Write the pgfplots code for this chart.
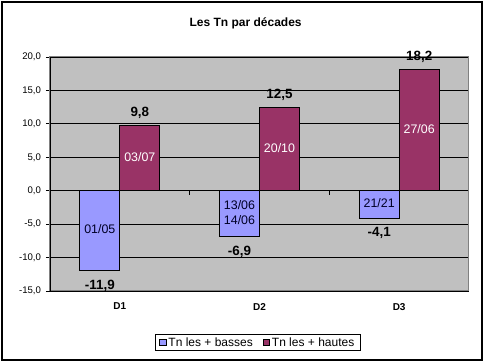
\documentclass[border=0pt]{standalone}
\usepackage{pgfplots}
\pgfplotsset{compat=1.18}
\usepackage{fontspec}
\setmainfont{Liberation Sans}
\definecolor{bluebar}{HTML}{9999FF}
\definecolor{redbar}{HTML}{993366}
\definecolor{plotbg}{HTML}{C0C0C0}
\definecolor{framegray}{HTML}{808080}
\protected\def\dd{13/06\\14/06}
\begin{document}
\begin{tikzpicture}[x=1pt,y=1pt]
\useasboundingbox (-50,-72) rectangle (435,291);
\draw[line width=1.3pt] (-48,-69) rectangle (432,289);
\node[font=\fontsize{12}{14}\selectfont\bfseries] at (195.6,268) {Les Tn par décades};
\begin{axis}[
  at={(0,0)}, anchor=south west,
  scale only axis, width=419pt, height=234pt,
  xmin=0.5, xmax=3.5, ymin=-15, ymax=20,
  axis background/.style={fill=plotbg},
  axis line style={draw=framegray, line width=1pt},
  ytick={-15,-10,...,20},
  ymajorgrids, grid style={black, line width=0.8pt},
  xtick={1,2,3}, xticklabels={D1,D2,D3},
  xtick style={draw=none},
  ytick pos=left,
  ytick style={black, line width=0.8pt},
  tick align=outside, major tick length=4pt,
  yticklabel style={font=\fontsize{9.6}{11}\selectfont, xshift=-1.5pt, /pgf/number format/.cd, fixed, fixed zerofill, precision=1, use comma, assume math mode=true},
  xticklabel style={font=\fontsize{10}{12}\selectfont\bfseries, yshift=-4.5pt},
  legend style={at={(0.496,-0.22)}, anchor=center, legend columns=2, draw=black, line width=0.8pt, fill=white,
    font=\fontsize{12}{14}\selectfont, inner xsep=4pt, inner ysep=1pt,
    /tikz/every even column/.append style={column sep=8pt}},
  legend image code/.code={\draw[#1, line width=0.6pt, draw=black] (0pt,-3.2pt) rectangle (6.5pt,3.2pt);},
]
\addplot[ybar, bar width=40pt, bar shift=-20pt, fill=bluebar, draw=black, line width=0.8pt,
  nodes near coords={\pgfmathprintnumber[fixed,fixed zerofill,precision=1,use comma,assume math mode=true]{\pgfplotspointmeta}},
  nodes near coords style={font=\fontsize{13.4}{15}\selectfont\bfseries, black, inner ysep=9pt, xshift=-20pt}]
  coordinates {(1,-11.9) (2,-6.9) (3,-4.1)};
\addlegendentry{Tn les + basses}
\addplot[ybar, bar width=40pt, bar shift=20pt, fill=redbar, draw=black, line width=0.8pt,
  nodes near coords={\pgfmathprintnumber[fixed,fixed zerofill,precision=1,use comma,assume math mode=true]{\pgfplotspointmeta}},
  nodes near coords style={font=\fontsize{13.4}{15}\selectfont\bfseries, black, inner ysep=6pt, xshift=20pt}]
  coordinates {(1,9.8) (2,12.5) (3,18.2)};
\addlegendentry{Tn les + hautes}
% inner date labels, placed at bar middles
\addplot[draw=none, mark=none, forget plot, point meta=explicit symbolic, nodes near coords,
  every node near coord/.append style={anchor=center, xshift=-20pt, yshift=1pt, inner ysep=0pt, align=center,
    font=\fontsize{12.4}{15}\selectfont\mdseries, color=black!85!blue}]
  coordinates {(1,-5.95) [01/05] (2,-3.45) [\dd] (3,-2.05) [21/21]};
\addplot[draw=none, mark=none, forget plot, point meta=explicit symbolic, nodes near coords,
  every node near coord/.append style={anchor=center, xshift=20pt, yshift=1pt, inner ysep=0pt, align=center,
    font=\fontsize{12.4}{15}\selectfont\mdseries, color=white}]
  coordinates {(1,4.9) [03/07] (2,6.25) [20/10] (3,9.1) [27/06]};
\draw[black, line width=0.8pt] (rel axis cs:0,0) -- (rel axis cs:0,1);
\draw[black, line width=0.8pt] (axis cs:1.5,0) -- ++(0pt,-4pt);
\draw[black, line width=0.8pt] (axis cs:2.5,0) -- ++(0pt,-4pt);
\end{axis}
\end{tikzpicture}
\end{document}
